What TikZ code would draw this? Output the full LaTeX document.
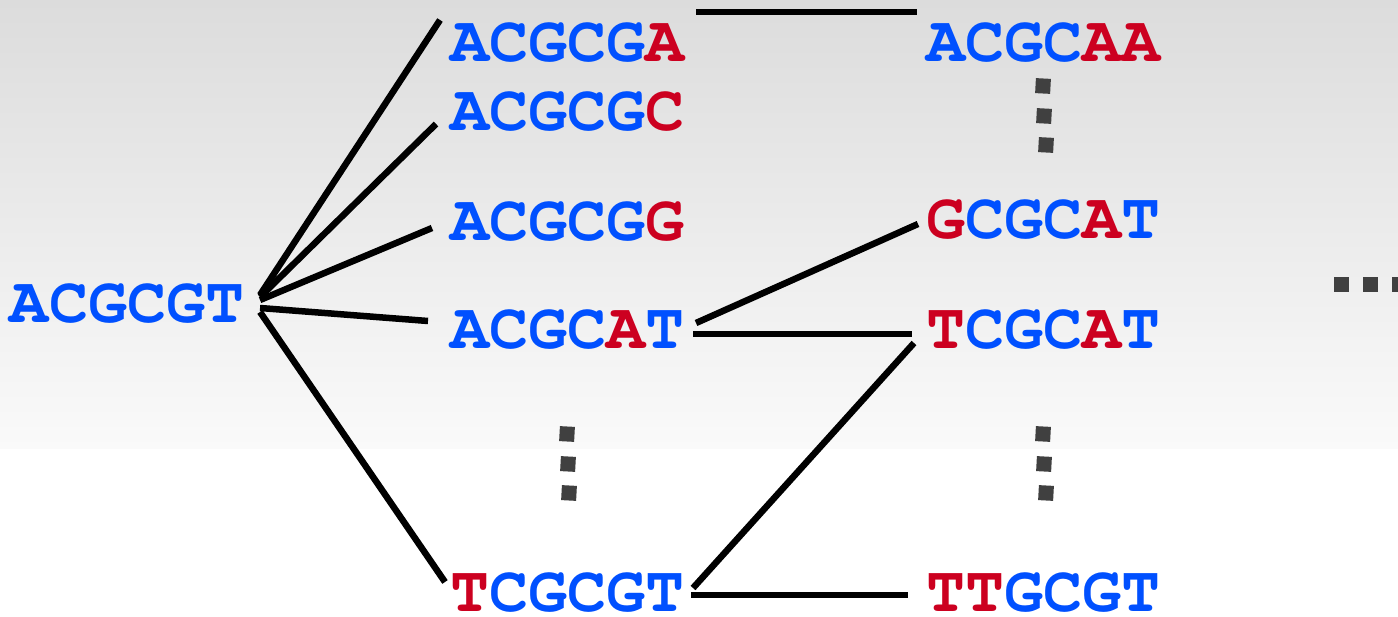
\documentclass[tikz,border=0pt]{standalone}
\usepackage{fontspec}
\newfontfamily\seqfont{TeX Gyre Cursor}
\usetikzlibrary{calc}
\definecolor{sblue}{HTML}{0050FF}
\definecolor{sred}{HTML}{CC0020}
\definecolor{dotgray}{HTML}{404040}
\definecolor{bgtop}{HTML}{DCDCDC}
\definecolor{bgbot}{HTML}{FAFAFA}
\newcommand{\B}[1]{\textcolor{sblue}{#1}}
\newcommand{\R}[1]{\textcolor{sred}{#1}}
\begin{document}
\begin{tikzpicture}[x=0.02cm,y=-0.02cm,
  seq/.style={inner sep=0pt, outer sep=0pt, anchor=base west, text depth=0pt,
    font=\seqfont\bfseries\fontsize{37}{40}\selectfont},
  link/.style={line width=0.13cm, black},
  dotsq/.style={fill=dotgray, draw=none, inner sep=0pt, minimum size=0.3cm, rectangle}]
\useasboundingbox[fill=white] (0,0) rectangle (1398,617);
\shade[top color=bgtop, bottom color=bgbot, draw=none] (0,0) rectangle (1398,449);

% nodes
\node[seq] (root) at (10,323) {\B{ACGCGT}};
\node[seq] (a1) at (450,62) {\B{ACGCG}\R{A}};
\node[seq] (a2) at (450,131) {\B{ACGCG}\R{C}};
\node[seq] (a3) at (450,241) {\B{ACGCG}\R{G}};
\node[seq] (a4) at (450,349) {\B{ACGC}\R{A}\B{T}};
\node[seq] (a5) at (450,611) {\R{T}\B{CGCGT}};
\node[seq] (b1) at (926,62) {\B{ACGC}\R{AA}};
\node[seq] (b2) at (926,239) {\R{G}\B{CGC}\R{A}\B{T}};
\node[seq] (b3) at (926,349) {\R{T}\B{CGC}\R{A}\B{T}};
\node[seq] (b4) at (926,611) {\R{TT}\B{GCGT}};

% connectors
\draw[link] ($(root.base east)+(16,-28)$) -- ($(a1.base west)+(-10,-42)$);
\draw[link] ($(root.base east)+(16,-26)$) -- ($(a2.base west)+(-14,-7)$);
\draw[link] ($(root.base east)+(16,-23)$) -- ($(a3.base west)+(-18,-13)$);
\draw[link] ($(root.base east)+(16,-15)$) -- ($(a4.base west)+(-22,-28)$);
\draw[link] ($(root.base east)+(16,-11)$) -- ($(a5.base west)+(-5,-29)$);
\draw[link] ($(a1.base east)+(12,-50)$) -- ($(b1.base west)+(-9,-50)$);
\draw[link] ($(a4.base east)+(12,-26)$) -- ($(b2.base west)+(-8,-15)$);
\draw[link] ($(a4.base east)+(9,-15)$) -- ($(b3.base west)+(-14,-15)$);
\draw[link] ($(a5.base east)+(9,-23)$) -- ($(b3.base west)+(-12,-6)$);
\draw[link] ($(a5.base east)+(7,-16)$) -- ($(b4.base west)+(-18,-16)$);

% dots
\node[dotsq, rotate=-3] (d11) at (567,434) {};
\node[dotsq, rotate=-3] (d12) at (568,464) {};
\node[dotsq, rotate=-3] (d13) at (569,493) {};
\node[dotsq, rotate=-3] (d21) at (1043,86) {};
\node[dotsq, rotate=-3] (d22) at (1044,116) {};
\node[dotsq, rotate=-3] (d23) at (1046,145) {};
\node[dotsq, rotate=-3] (d31) at (1043,434) {};
\node[dotsq, rotate=-3] (d32) at (1044,464) {};
\node[dotsq, rotate=-3] (d33) at (1046,493) {};
\node[dotsq] (d41) at (1341,285) {};
\node[dotsq] (d42) at (1370,285) {};
\node[dotsq] (d43) at (1399,285) {};
\end{tikzpicture}
\end{document}
